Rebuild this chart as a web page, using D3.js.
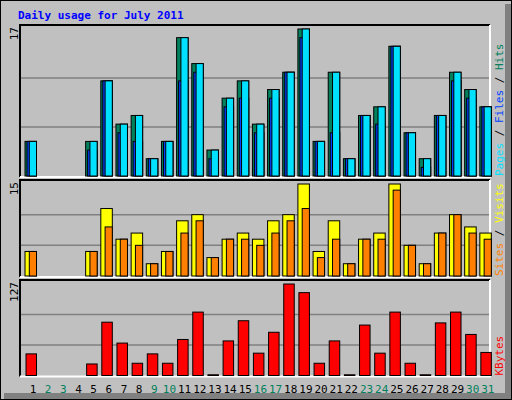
<!DOCTYPE html>
<html><head><meta charset="utf-8">
<script src="https://cdn.jsdelivr.net/npm/d3@7"></script>
<style>body{margin:0;background:#fff}svg{display:block}</style>
</head><body><div id="chart"></div>
<script>
const days = d3.range(1, 32);
const weekend = [2, 3, 9, 10, 16, 17, 23, 24, 30, 31];
const hits  = [4,0,0,0,4,11,6,7,2,4,16,13,3,9,11,6,10,12,17,4,12,2,7,8,15,5,2,7,12,10,8];
const files = [4,0,0,0,3,11,5,4,2,4,11,12,2,8,9,5,9,12,16,4,5,2,7,6,15,5,1,7,11,9,8];
const pages = hits;
const visits = [4,0,0,0,4,11,6,7,2,4,9,10,3,6,7,6,9,10,15,4,9,2,6,7,15,5,2,7,10,8,7];
const sites  = [4,0,0,0,4,8,6,5,2,4,7,9,3,6,6,5,7,9,11,3,6,2,6,6,14,5,2,7,10,7,6];
const kbytes = [30,0,0,0,16,74,45,17,30,17,50,88,1,48,76,31,60,127,115,17,48,1,70,31,88,17,1,73,88,57,32];

const W = 512, H = 400, L = 20, R = 490;
const svg = d3.select("#chart").append("svg").attr("width", W).attr("height", H)
  .style("font-family", "DejaVu Sans Mono, monospace");

svg.append("rect").attr("width", W).attr("height", H).attr("fill", "#c0c0c0");
svg.append("rect").attr("x", 0.5).attr("y", 0.5).attr("width", W - 1).attr("height", H - 1)
  .attr("fill", "none").attr("stroke", "#000");
svg.append("rect").attr("x", 505).attr("y", 4).attr("width", 6).attr("height", 395).attr("fill", "#808080");
svg.append("rect").attr("x", 4).attr("y", 393).attr("width", 507).attr("height", 6).attr("fill", "#808080");

svg.append("text").attr("x", 18).attr("y", 19).attr("fill", "#0000ff")
  .attr("font-size", 11).attr("font-weight", "bold").text("Daily usage for July 2011");

const x = d3.scaleBand().domain(days).range([L, R]).paddingInner(0);

function panel(top, bottom, max, series, legend) {
  const y = d3.scaleLinear().domain([0, max]).range([bottom, top + 4]);
  const g = svg.append("g");
  // inset frame
  g.append("path").attr("d", `M${L},${bottom + 1}V${top}H${R}`).attr("fill", "none").attr("stroke", "#000").attr("stroke-width", 2);
  g.append("path").attr("d", `M${L},${bottom + 1}H${R}V${top}`).attr("fill", "none").attr("stroke", "#fff").attr("stroke-width", 2);
  g.selectAll(".grid").data([max / 3, max * 2 / 3]).join("line")
    .attr("x1", L + 1).attr("x2", R - 1).attr("y1", d => y(d)).attr("y2", d => y(d))
    .attr("stroke", "#808080").attr("stroke-width", 1.5);
  series.forEach(s => {
    g.append("g").selectAll("rect").data(s.values.map((v, i) => ({ v, d: days[i] })).filter(o => o.v > 0)).join("rect")
      .attr("x", o => x(o.d) + 5 + s.off)
      .attr("width", 11.5 - s.off)
      .attr("y", o => y(o.v))
      .attr("height", o => Math.max(0.5, y(0) - y(o.v)))
      .attr("fill", s.color).attr("stroke", "#000").attr("stroke-width", 1);
  });
  g.append("text").attr("transform", `translate(18,${top + 2}) rotate(-90)`)
    .attr("text-anchor", "end").attr("font-size", 11).attr("fill", "#000").text(max);
  const t = g.append("text").attr("transform", `translate(503,${bottom}) rotate(-90)`)
    .attr("font-size", 11);
  legend.forEach((p, i) => {
    if (i) t.append("tspan").attr("fill", "#000").text(" / ");
    t.append("tspan").attr("fill", p[1]).text(p[0]);
  });
}

panel(25, 176, 17, [
  { values: hits, color: "#00805c", off: 0 },
  { values: files, color: "#0040ff", off: 2 },
  { values: pages, color: "#00e0ff", off: 4.3 }
], [["Pages", "#00e0ff"], ["Files", "#0040ff"], ["Hits", "#00805c"]]);

panel(180, 276, 15, [
  { values: visits, color: "#ffff00", off: 0 },
  { values: sites, color: "#ff8000", off: 4.3 }
], [["Sites", "#ff8000"], ["Visits", "#ffff00"]]);

panel(280, 375.5, 127, [
  { values: kbytes, color: "#ff0000", off: 1 }
], [["KBytes", "#ff0000"]]);

svg.append("g").selectAll("text").data(days).join("text")
  .attr("x", d => x(d) + 13).attr("y", 393).attr("text-anchor", "middle")
  .attr("font-size", 11).attr("fill", d => weekend.includes(d) ? "#00805c" : "#000")
  .text(d => d);
</script></body></html>
